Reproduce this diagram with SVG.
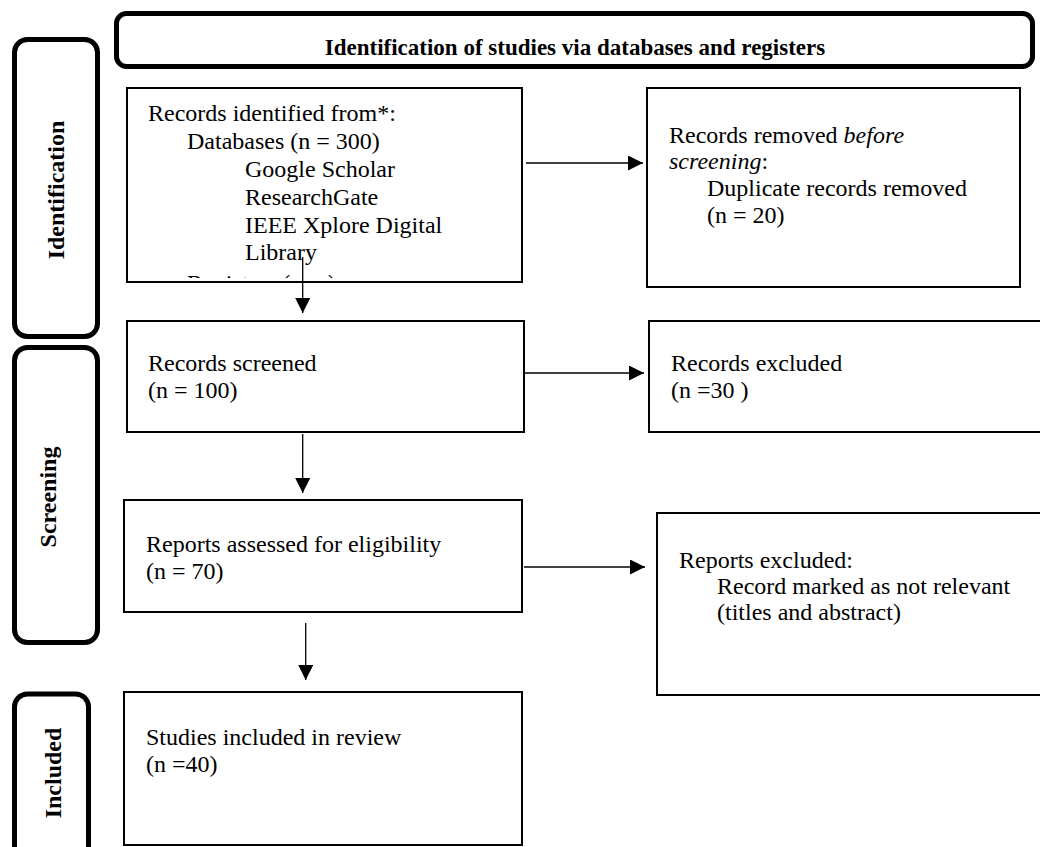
<svg xmlns="http://www.w3.org/2000/svg" width="1040" height="847" viewBox="0 0 1040 847">
<style>
  text { font-family: "Liberation Serif", "Times New Roman", serif; fill: #000; }
  .body { font-size: 24px; }
  .lab { font-size: 24px; font-weight: bold; }
  .hdr { font-size: 23px; font-weight: bold; }
  .box { fill: #fff; stroke: #000; stroke-width: 2; }
  .phase { fill: #fff; stroke: #000; stroke-width: 5; }
  .conn { stroke: #000; stroke-width: 1.3; fill: none; }
</style>
<defs>
  <marker id="ah" markerUnits="userSpaceOnUse" markerWidth="15" markerHeight="15" refX="15" refY="7.5" orient="auto">
    <path d="M0,0 L15,7.5 L0,15 Z" fill="#000"/>
  </marker>
  <clipPath id="clip1"><rect x="128" y="89" width="393" height="189"/></clipPath>
</defs>
<rect width="1040" height="847" fill="#fff"/>

<g id="header">
  <rect class="phase" x="116.5" y="13.5" width="916" height="53" rx="10"/>
  <text class="hdr" x="575" y="55" text-anchor="middle">Identification of studies via databases and registers</text>
</g>

<g id="phase-identification">
  <rect class="phase" x="14.5" y="39.5" width="83" height="297" rx="13"/>
  <text class="lab" transform="translate(64,190) rotate(-90)" text-anchor="middle">Identification</text>
</g>
<g id="phase-screening">
  <rect class="phase" x="14.5" y="347.5" width="83" height="295" rx="13"/>
  <text class="lab" transform="translate(56,497) rotate(-90)" text-anchor="middle">Screening</text>
</g>
<g id="phase-included">
  <rect class="phase" x="14.5" y="694" width="74" height="180" rx="13"/>
  <text class="lab" transform="translate(61,773) rotate(-90)" text-anchor="middle">Included</text>
</g>

<g id="records-identified">
  <rect class="box" x="127" y="88" width="395" height="194"/>
  <text class="body" x="148" y="121">Records identified from*:</text>
  <text class="body" x="187" y="149">Databases (n = 300)</text>
  <text class="body" x="245" y="177">Google Scholar</text>
  <text class="body" x="245" y="205">ResearchGate</text>
  <text class="body" x="245" y="233">IEEE Xplore Digital</text>
  <text class="body" x="245" y="260">Library</text>
  <text class="body" x="187" y="291" clip-path="url(#clip1)">Registers (n = )</text>
</g>

<g id="records-removed">
  <rect class="box" x="647" y="88" width="373" height="199"/>
  <text class="body" x="669" y="143">Records removed <tspan font-style="italic">before</tspan></text>
  <text class="body" x="669" y="169"><tspan font-style="italic">screening</tspan>:</text>
  <text class="body" x="707" y="196">Duplicate records removed</text>
  <text class="body" x="707" y="223">(n = 20)</text>
</g>

<g id="records-screened">
  <rect class="box" x="127" y="321" width="397" height="111"/>
  <text class="body" x="148" y="371">Records screened</text>
  <text class="body" x="148" y="398">(n = 100)</text>
</g>

<g id="records-excluded">
  <rect class="box" x="649" y="321" width="400" height="111"/>
  <text class="body" x="671" y="371">Records excluded</text>
  <text class="body" x="671" y="398">(n =30 )</text>
</g>

<g id="reports-assessed">
  <rect class="box" x="124" y="500" width="398" height="112"/>
  <text class="body" x="146" y="552">Reports assessed for eligibility</text>
  <text class="body" x="146" y="579">(n = 70)</text>
</g>

<g id="reports-excluded">
  <rect class="box" x="657" y="513" width="400" height="182"/>
  <text class="body" x="679" y="568">Reports excluded:</text>
  <text class="body" x="717" y="594">Record marked as not relevant</text>
  <text class="body" x="717" y="620">(titles and abstract)</text>
</g>

<g id="studies-included">
  <rect class="box" x="124" y="692" width="398" height="153"/>
  <text class="body" x="146" y="745">Studies included in review</text>
  <text class="body" x="146" y="772">(n =40)</text>
</g>

<g id="connectors">
  <line class="conn" x1="526" y1="163" x2="643" y2="163" marker-end="url(#ah)"/>
  <line class="conn" x1="302.7" y1="257" x2="302.7" y2="313" marker-end="url(#ah)"/>
  <line class="conn" x1="525" y1="373" x2="644" y2="373" marker-end="url(#ah)"/>
  <line class="conn" x1="302.7" y1="434" x2="302.7" y2="493" marker-end="url(#ah)"/>
  <line class="conn" x1="524" y1="567" x2="645" y2="567" marker-end="url(#ah)"/>
  <line class="conn" x1="305.7" y1="623" x2="305.7" y2="680" marker-end="url(#ah)"/>
</g>
</svg>
